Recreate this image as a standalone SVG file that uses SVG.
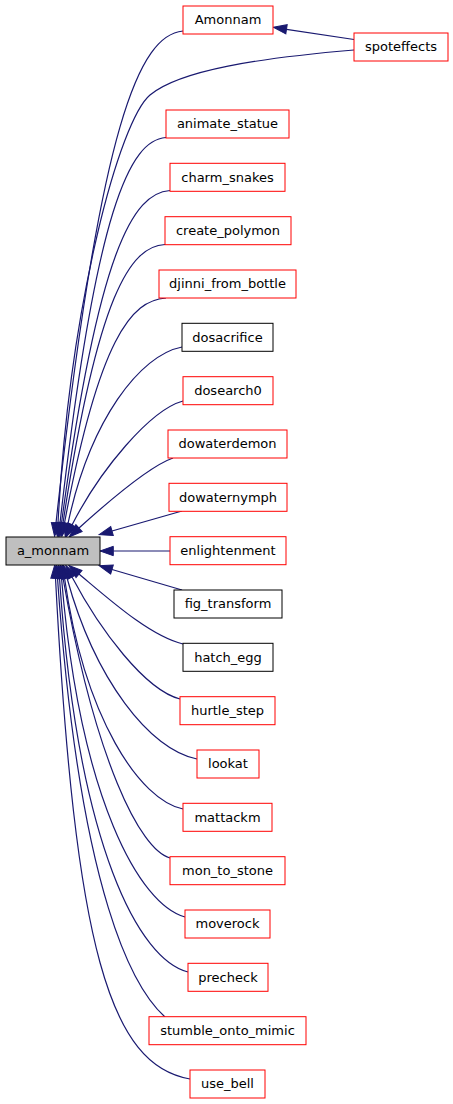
<svg xmlns="http://www.w3.org/2000/svg" width="453" height="1104" viewBox="0 0 453 1104">
<style>
.n rect{fill:#ffffff;stroke:#ff0000;stroke-width:1}
.n.b rect{stroke:#000000}
.n.m rect{fill:#bfbfbf;stroke:#000000}
.n text{font-family:"DejaVu Sans","Liberation Sans",sans-serif;font-size:13px;fill:#000000;text-anchor:middle}
.e path{fill:none;stroke:#191970;stroke-width:1.2;marker-end:url(#ah)}
</style>
<defs>
<marker id="ah" markerUnits="userSpaceOnUse" markerWidth="14" markerHeight="10" refX="0" refY="4.67" orient="auto" overflow="visible">
<path d="M0,0 L13.3,4.67 L0,9.33 z" fill="#191970" stroke="#191970" stroke-width="1"/>
</marker>
</defs>
<rect width="453" height="1104" fill="#ffffff"/>
<g id="edges" class="e">
<path d="M354,39.5 L286.5,29.3"/>
<path d="M183,31 C140,35 100,120 56,523"/>
<path d="M354,50 C260,58 180,70 150,95 C120,120 70,300 58,523"/>
<path d="M166,137.5 C130,140 96,206.5 60,523"/>
<path d="M170,190.5 C133,193 98.4,250 61.5,523"/>
<path d="M165,244.5 C130.3,246.2 97.7,294.2 63,523"/>
<path d="M166,298 C131.5,300 99,338.5 64.5,523"/>
<path d="M182,347 C140,355 90,420 68,523.5"/>
<path d="M183,401 C150,410 100,470 72,525"/>
<path d="M173,458 C150,466 110,500 79,528"/>
<path d="M182,511 L112,531"/>
<path d="M170,551 L113.3,551"/>
<path d="M182,590 L112,569.5"/>
<path d="M183,644 C150,636 110,600 79,574"/>
<path d="M180,699 C145,690 100,630 72,577"/>
<path d="M197,759 C150,750 95,680 67,578"/>
<path d="M183,809 C140,800 85,720 64.5,578"/>
<path d="M170,858 C140,850 95,760 63,578"/>
<path d="M185,917 C140,905 80,800 61.5,578"/>
<path d="M188,972 C140,960 78,850 59.5,578"/>
<path d="M165,1017 C135,990 80,900 57.5,578"/>
<path d="M190,1079 C110,1065 75,950 55.5,578"/>
</g>
<g id="a_monnam" class="n m"><rect x="6" y="537" width="94" height="28"/><text x="53" y="555.3">a_monnam</text></g>
<g id="Amonnam" class="n"><rect x="183" y="6" width="90" height="28"/><text x="228" y="24.3">Amonnam</text></g>
<g id="spoteffects" class="n"><rect x="354" y="33" width="94" height="28"/><text x="401" y="51.3">spoteffects</text></g>
<g id="animate_statue" class="n"><rect x="166" y="110" width="123" height="28"/><text x="227.5" y="128.3">animate_statue</text></g>
<g id="charm_snakes" class="n"><rect x="170" y="163.3" width="115" height="28"/><text x="227.5" y="181.6">charm_snakes</text></g>
<g id="create_polymon" class="n"><rect x="165" y="216.7" width="126" height="28"/><text x="228" y="235">create_polymon</text></g>
<g id="djinni_from_bottle" class="n"><rect x="159" y="270" width="137" height="28"/><text x="227.5" y="288.3">djinni_from_bottle</text></g>
<g id="dosacrifice" class="n b"><rect x="182" y="323.3" width="91" height="28"/><text x="227.5" y="341.6">dosacrifice</text></g>
<g id="dosearch0" class="n"><rect x="183" y="376.7" width="90" height="28"/><text x="228" y="395">dosearch0</text></g>
<g id="dowaterdemon" class="n"><rect x="168" y="430" width="119" height="28"/><text x="227.5" y="448.3">dowaterdemon</text></g>
<g id="dowaternymph" class="n"><rect x="169" y="483.3" width="118" height="28"/><text x="228" y="501.6">dowaternymph</text></g>
<g id="enlightenment" class="n"><rect x="170" y="536.7" width="116" height="28"/><text x="228" y="555">enlightenment</text></g>
<g id="fig_transform" class="n b"><rect x="174" y="590" width="108" height="28"/><text x="228" y="608.3">fig_transform</text></g>
<g id="hatch_egg" class="n b"><rect x="183" y="643.3" width="90" height="28"/><text x="228" y="661.6">hatch_egg</text></g>
<g id="hurtle_step" class="n"><rect x="180" y="696.7" width="95" height="28"/><text x="227.5" y="715">hurtle_step</text></g>
<g id="lookat" class="n"><rect x="197" y="750" width="62" height="28"/><text x="228" y="768.3">lookat</text></g>
<g id="mattackm" class="n"><rect x="183" y="803.3" width="89" height="28"/><text x="227.5" y="821.6">mattackm</text></g>
<g id="mon_to_stone" class="n"><rect x="170" y="856.7" width="115" height="28"/><text x="227.5" y="875">mon_to_stone</text></g>
<g id="moverock" class="n"><rect x="185" y="910" width="85" height="28"/><text x="227.5" y="928.3">moverock</text></g>
<g id="precheck" class="n"><rect x="188" y="963.3" width="80" height="28"/><text x="228" y="981.6">precheck</text></g>
<g id="stumble_onto_mimic" class="n"><rect x="149" y="1016.7" width="157" height="28"/><text x="227.5" y="1035">stumble_onto_mimic</text></g>
<g id="use_bell" class="n"><rect x="190" y="1070" width="75" height="28"/><text x="227.5" y="1088.3">use_bell</text></g>
</svg>
